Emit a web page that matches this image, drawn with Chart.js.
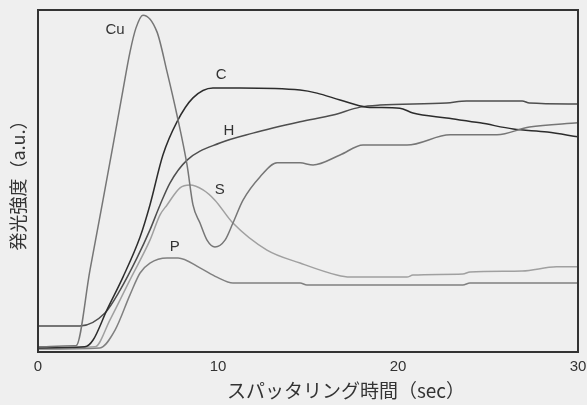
<!DOCTYPE html>
<html><head><meta charset="utf-8">
<script src="https://cdn.jsdelivr.net/npm/chart.js@4.4.1/dist/chart.umd.min.js"></script>
<style>html,body{margin:0;padding:0;background:#efefef;}#wrap{width:587px;height:405px;}</style>
</head><body><div id="wrap"><canvas id="c" width="587" height="405"></canvas></div>
<script>
// time (sec) and intensity (a.u., 0-100) for each element
const tCu = [0,2.0,2.11,2.89,3.61,4.17,4.72,5.11,5.44,5.83,6.61,7.17,7.72,8.28,8.61,9.0,9.39,9.83,10.39,10.83,11.39,12.33,13.28,14.56,15.28,16.78,18.06,20.5,22.9,25.5,27.3,30];
const vCu = [1.5,1.8,1.8,24.0,44.4,60.5,76.6,87.7,94.7,98.5,93.6,81.9,69.3,54.7,43.0,37.7,32.7,30.7,32.7,37.7,44.4,51.2,55.3,55.3,54.7,57.6,60.5,60.5,63.5,63.5,65.8,67.0];
const tC = [0,2.6,3.06,3.83,4.72,5.67,6.22,6.94,7.72,8.61,9.72,11.22,14.56,15.5,16.78,18.28,20.1,20.83,22.7,24.56,26.4,28.3,30];
const vC = [1.2,1.5,3.5,12.3,21.9,33.6,43.0,57.6,67.3,74.3,77.2,77.2,76.6,75.7,73.7,71.6,71.3,69.9,68.4,67.0,65.2,64.3,62.9];
const tH = [0,2.33,3.72,4.56,5.5,6.22,6.78,7.33,8.28,10.1,11.94,14.56,16.39,17.9,19.0,22.7,23.8,26.9,27.3,30];
const vH = [7.6,7.6,11.4,18.1,27.5,35.7,43.0,49.4,56.1,61.1,64.0,67.3,69.3,71.6,72.2,72.8,73.4,73.4,72.8,72.5];
const tS = [0,3.17,4.0,5.11,6.22,6.78,7.17,7.89,8.44,9.17,9.83,10.83,12.72,14.56,16.6,17.33,20.5,20.83,23.6,24.0,26.9,28.8,30];
const vS = [1.2,1.5,9.4,21.1,32.7,40.1,43.0,48.0,48.8,47.4,44.4,37.7,29.8,26.0,22.5,21.9,21.9,22.5,22.8,23.4,23.7,24.9,24.9];
const tP = [0,3.44,4.28,5.11,5.67,6.22,7.17,7.78,9.0,9.94,10.83,14.56,14.94,23.6,24.0,30];
const vP = [0.9,1.2,6.4,16.7,23.1,26.0,27.5,27.5,24.6,21.9,20.2,20.2,19.6,19.6,20.2,20.2];
const xTicks = [0,10,20,30];
const seriesNames = ['Cu','C','H','S','P'];
// label anchor positions (time, intensity)
const labelT = [4.28,10.17,10.6,10.1,7.6];
const labelV = [94.2,81.0,64.6,47.4,30.7];

const colors = ['#767676','#2c2c2c','#4e4e4e','#a0a0a0','#808080'];
const ts = [tCu,tC,tH,tS,tP], vs = [vCu,vC,vH,vS,vP];
const datasets = seriesNames.map((n,i)=>({
  label:n,
  data: ts[i].map((t,j)=>({x:t,y:vs[i][j]})),
  borderColor: colors[i], borderWidth: 1.5, pointRadius:0,
  cubicInterpolationMode:'monotone', fill:false
}));

const bgPlugin = {
  id:'bg',
  beforeDraw(chart){
    const ctx=chart.ctx; ctx.save(); ctx.fillStyle='#efefef';
    ctx.fillRect(0,0,chart.width,chart.height); ctx.restore();
  },
  afterDraw(chart){
    const ctx=chart.ctx, a=chart.chartArea, xs=chart.scales.x, ys=chart.scales.y;
    ctx.save();
    ctx.strokeStyle='#333'; ctx.lineWidth=2;
    ctx.strokeRect(a.left,a.top,a.right-a.left,a.bottom-a.top);
    ctx.fillStyle='#333'; ctx.font='15px "Liberation Sans", Arial, sans-serif';
    ctx.textAlign='center'; ctx.textBaseline='middle';
    seriesNames.forEach((n,i)=>{
      ctx.fillText(n, xs.getPixelForValue(labelT[i]), ys.getPixelForValue(labelV[i]));
    });
    ctx.restore();
  }
};

new Chart(document.getElementById('c'),{
  type:'line',
  data:{datasets},
  options:{
    responsive:false, animation:false,
    layout:{padding:{top:10,right:9,left:0,bottom:0}},
    plugins:{legend:{display:false},tooltip:{enabled:false}},
    scales:{
      x:{type:'linear',min:0,max:30,
        afterBuildTicks(s){ s.ticks = xTicks.map(v=>({value:v})); },
        afterFit(s){ s.height=53; s.paddingLeft=0; s.paddingRight=0; },
        grid:{display:false, drawTicks:false},
        border:{display:true,color:'#333',width:2},
        ticks:{color:'#333',font:{family:'"Liberation Sans", Arial, sans-serif',size:15},padding:6,maxRotation:0},
        title:{display:true,text:'\u3000\u3000\u3000\u3000スパッタリング時間（sec）',color:'#333',
          font:{family:'"Noto Sans CJK JP", sans-serif',size:19},padding:{top:0,bottom:3}}
      },
      y:{min:0,max:100,
        afterFit(s){ s.width=38; },
        grid:{display:false, drawTicks:false},
        border:{display:true,color:'#333',width:2},
        ticks:{display:false},
        title:{display:true,text:'発光強度（a.u.）',color:'#333',
          font:{family:'"Noto Sans CJK JP", sans-serif',size:18},padding:{top:7,bottom:0}}
      }
    }
  },
  plugins:[bgPlugin]
});
</script></body></html>
